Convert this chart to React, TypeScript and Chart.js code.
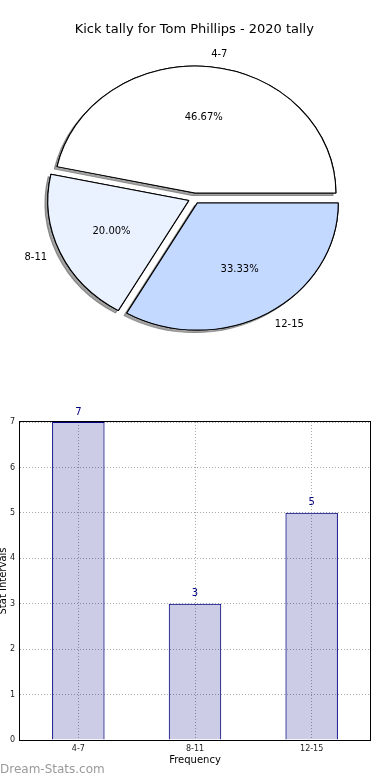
import React, { useEffect, useRef } from 'react';
import { Chart, registerables } from 'chart.js';

Chart.register(...registerables);
Chart.defaults.font.family = '"DejaVu Sans", sans-serif';

// ---- data ----
const PIE_TITLE = 'Kick tally for Tom Phillips - 2020 tally';
const categories = ['4-7', '8-11', '12-15'];
const counts = [7, 3, 5];
const pieColors = ['#ffffff', '#eaf1ff', '#c4d9ff'];
const yMin = 0;
const yMax = 7;
const yStep = 1;
const X_TITLE = 'Frequency';
const Y_TITLE = 'Stat Intervals';
const WATERMARK = 'Dream-Stats.com';

// ---- styles ----
const SX = 1.11; // horizontal stretch of the pie (ellipse)
const EXPLODE = 5.4;
const SHADOW_DX = -2.8;
const SHADOW_DY = 2.5;

const piePlugin = {
  id: 'ellipsePie',
  beforeDatasetsDraw(chart: any) {
    const ctx = chart.ctx;
    const arcs = chart.getDatasetMeta(0).data;
    if (!arcs.length) return false;
    const cx = arcs[0].x;
    const cy = arcs[0].y;
    ctx.save();
    ctx.translate(cx, cy);
    ctx.scale(SX, 1);
    ctx.translate(-cx, -cy);
    // pass 1: with shadow
    arcs.forEach((arc: any) => {
      const mid = (arc.startAngle + arc.endAngle) / 2;
      ctx.save();
      ctx.translate(Math.cos(mid) * EXPLODE, Math.sin(mid) * EXPLODE);
      ctx.shadowColor = 'rgba(70,70,70,0.5)';
      ctx.shadowOffsetX = SHADOW_DX;
      ctx.shadowOffsetY = SHADOW_DY;
      ctx.shadowBlur = 0;
      arc.draw(ctx);
      ctx.restore();
    });
    // pass 2: clean wedges on top
    arcs.forEach((arc: any) => {
      const mid = (arc.startAngle + arc.endAngle) / 2;
      ctx.save();
      ctx.translate(Math.cos(mid) * EXPLODE, Math.sin(mid) * EXPLODE);
      arc.draw(ctx);
      ctx.restore();
    });
    ctx.restore();
    return false;
  },
  afterDraw(chart: any) {
    const ctx = chart.ctx;
    const arcs = chart.getDatasetMeta(0).data;
    const values: number[] = chart.data.datasets[0].data;
    const labels: string[] = chart.data.labels;
    const total = values.reduce((a, b) => a + b, 0);
    ctx.save();
    ctx.font = '10px "DejaVu Sans"';
    ctx.fillStyle = '#000';
    ctx.textBaseline = 'middle';
    arcs.forEach((arc: any, i: number) => {
      const cx = arc.x;
      const cy = arc.y;
      const R = arc.outerRadius;
      const mid = (arc.startAngle + arc.endAngle) / 2;
      const pos = (k: number) => {
        const r = EXPLODE + k * R;
        return [cx + Math.cos(mid) * r * SX, cy + Math.sin(mid) * r];
      };
      const [lx, ly] = pos(1.1);
      ctx.textAlign = lx >= cx ? 'left' : 'right';
      ctx.fillText(labels[i], lx, ly);
      const [px, py] = pos(0.6);
      ctx.textAlign = 'center';
      ctx.fillText(((values[i] / total) * 100).toFixed(2) + '%', px, py);
    });
    ctx.restore();
  },
};

const barPlugin = {
  id: 'barExtras',
  afterDatasetsDraw(chart: any) {
    const ctx = chart.ctx;
    const bars = chart.getDatasetMeta(0).data;
    const values: number[] = chart.data.datasets[0].data;
    ctx.save();
    ctx.font = '10px "DejaVu Sans"';
    ctx.fillStyle = '#000080';
    ctx.textAlign = 'center';
    ctx.textBaseline = 'middle';
    bars.forEach((bar: any, i: number) => {
      ctx.fillText(String(values[i]), bar.x, bar.y - 10);
    });
    ctx.restore();
  },
  afterDraw(chart: any) {
    const ctx = chart.ctx;
    const { left, top, right, bottom } = chart.chartArea;
    ctx.save();
    ctx.strokeStyle = '#000';
    ctx.lineWidth = 1;
    ctx.strokeRect(left - 0.5, top - 0.5, right - left + 1, bottom - top + 1);
    ctx.font = '12px "DejaVu Sans"';
    ctx.fillStyle = '#9a9a9a';
    ctx.textAlign = 'left';
    ctx.textBaseline = 'middle';
    ctx.fillText(WATERMARK, 6, chart.height - 10);
    ctx.restore();
  },
};

export default function App() {
  const pieRef = useRef<HTMLCanvasElement>(null);
  const barRef = useRef<HTMLCanvasElement>(null);

  useEffect(() => {
    const order = [2, 1, 0];
    const pie = new Chart(pieRef.current as HTMLCanvasElement, {
      type: 'pie',
      data: {
        labels: order.map((i) => categories[i]),
        datasets: [
          {
            data: order.map((i) => counts[i]),
            backgroundColor: order.map((i) => pieColors[i]),
            borderColor: '#000',
            borderWidth: 1,
            clip: false as any,
          },
        ],
      },
      options: {
        responsive: false,
        animation: false,
        rotation: 90,
        radius: 127,
        layout: { padding: { top: 0, bottom: 12.8, left: 0, right: 1.4 } },
        plugins: {
          legend: { display: false },
          tooltip: { enabled: false },
          title: {
            display: true,
            text: PIE_TITLE,
            color: '#000',
            font: { size: 13, weight: 'normal' },
            padding: { top: 22, bottom: 12 },
          },
        },
      } as any,
      plugins: [piePlugin],
    });

    const gridColor = '#a8a8a8';
    const bar = new Chart(barRef.current as HTMLCanvasElement, {
      type: 'bar',
      data: {
        labels: categories,
        datasets: [
          {
            data: counts,
            backgroundColor: 'rgba(0,0,128,0.2)',
            borderColor: '#000080',
            borderWidth: 1,
            barPercentage: 0.45,
            categoryPercentage: 1,
          },
        ],
      },
      options: {
        responsive: false,
        animation: false,
        layout: { padding: { top: 42, bottom: 0, left: 0, right: 20 } },
        plugins: {
          legend: { display: false },
          tooltip: { enabled: false },
        },
        scales: {
          x: {
            offset: true,
            grid: { color: gridColor, offset: false, drawTicks: false, lineWidth: 1 },
            border: { display: false, dash: [1, 2] },
            ticks: { color: '#222', font: { size: 8 }, padding: 4, maxRotation: 0 },
            title: {
              display: true,
              text: X_TITLE,
              color: '#000',
              font: { size: 10 },
              padding: { top: 0, bottom: 14 },
            },
            afterFit: (s: any) => {
              s.height = 40;
            },
          },
          y: {
            min: yMin,
            max: yMax,
            grid: { color: gridColor, drawTicks: false, lineWidth: 1 },
            border: { display: false, dash: [1, 2] },
            ticks: { stepSize: yStep, color: '#222', font: { size: 8 }, padding: 5 },
            title: {
              display: true,
              text: Y_TITLE,
              color: '#000',
              font: { size: 10 },
              padding: { top: 3, bottom: 0 },
            },
            afterFit: (s: any) => {
              s.width = 26;
            },
          },
        },
      } as any,
      plugins: [barPlugin],
    });

    return () => {
      pie.destroy();
      bar.destroy();
    };
  }, []);

  return (
    <div style={{ position: 'absolute', left: 0, top: 0, width: 390, height: 780, overflow: 'hidden', background: '#fff' }}>
      <canvas ref={pieRef} width={390} height={360} style={{ position: 'absolute', left: 0, top: 0 }} />
      <canvas ref={barRef} width={396} height={400} style={{ position: 'absolute', left: -6, top: 380 }} />
    </div>
  );
}
